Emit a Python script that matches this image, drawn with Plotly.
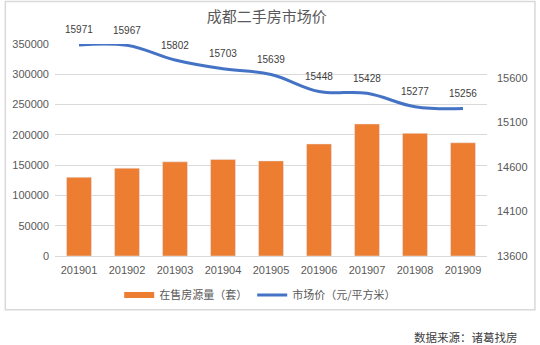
import plotly.graph_objects as go

months = ["201901", "201902", "201903", "201904", "201905",
          "201906", "201907", "201908", "201909"]
listings = [130000, 145000, 155500, 159500, 157000, 185000, 218000, 202500, 187000]
prices = [15971, 15967, 15802, 15703, 15639, 15448, 15428, 15277, 15256]
left_ticks = [0, 50000, 100000, 150000, 200000, 250000, 300000, 350000]
right_ticks = [13600, 14100, 14600, 15100, 15600]

ORANGE = "#ED7D31"
BLUE = "#4472C4"
FONT = "Liberation Sans, Noto Sans CJK SC, sans-serif"
CJK = "Noto Sans CJK SC, sans-serif"

fig = go.Figure()

fig.add_trace(go.Bar(
    x=months, y=listings, marker_color=ORANGE, showlegend=False,
    name="在售房源量（套）", yaxis="y",
))
# legend swatch drawn as a thick short line
fig.add_trace(go.Scatter(
    x=[months[0]], y=[None], mode="lines", line=dict(color=ORANGE, width=6),
    name="在售房源量（套）", yaxis="y", hoverinfo="skip",
))
fig.add_trace(go.Scatter(
    x=months, y=prices, mode="lines", name="市场价（元/平方米）",
    line=dict(color=BLUE, width=3, shape="spline", smoothing=1.1),
    yaxis="y2",
))

for i, p in enumerate(prices):
    fig.add_annotation(
        x=i, y=p, xref="x", yref="y2", text=str(p), showarrow=False,
        yshift=15, font=dict(family=FONT, size=10, color="#404040"),
    )

# outer chart frame
fig.add_shape(type="rect", xref="paper", yref="paper",
              x0=-0.115, x1=1.111, y0=-0.253, y1=1.2,
              line=dict(color="#d9d9d9", width=1.5), layer="below")

fig.add_annotation(
    xref="paper", yref="paper", x=1.076, y=-0.382, xanchor="right",
    yanchor="middle", text="数据来源：诸葛找房", showarrow=False,
    font=dict(family=CJK, size=11.5, color="#404040"),
)

fig.update_layout(
    width=540, height=345,
    margin=dict(l=52, r=53, t=44, b=89),
    paper_bgcolor="white", plot_bgcolor="white",
    bargap=0.48,
    title=dict(text="成都二手房市场价", x=0.494, y=0.951, xanchor="center",
               yanchor="middle",
               font=dict(family=CJK, size=15, color="#595959")),
    xaxis=dict(type="category", categoryorder="array", categoryarray=months,
               showgrid=False, showline=True,
               linecolor="#d9d9d9", linewidth=1, ticks="",
               ticklabelstandoff=4,
               tickfont=dict(family=FONT, size=11, color="#595959")),
    yaxis=dict(range=[0, 350000], tickvals=left_ticks, tickformat="d",
               showgrid=True, gridcolor="#d9d9d9", gridwidth=1, zeroline=False,
               ticks="", ticklabelstandoff=5,
               tickfont=dict(family=FONT, size=11, color="#595959")),
    yaxis2=dict(range=[13600, 15982], tickvals=right_ticks, tickformat="d",
                overlaying="y", side="right", showgrid=False, zeroline=False,
                ticks="", ticklabelstandoff=9,
                tickfont=dict(family=FONT, size=11, color="#595959")),
    legend=dict(orientation="h", x=0.475, xanchor="center", y=-0.115,
                yanchor="top", font=dict(family=CJK, size=11, color="#595959"),
                itemwidth=30, traceorder="normal"),
)

fig.write_html("out.html")
